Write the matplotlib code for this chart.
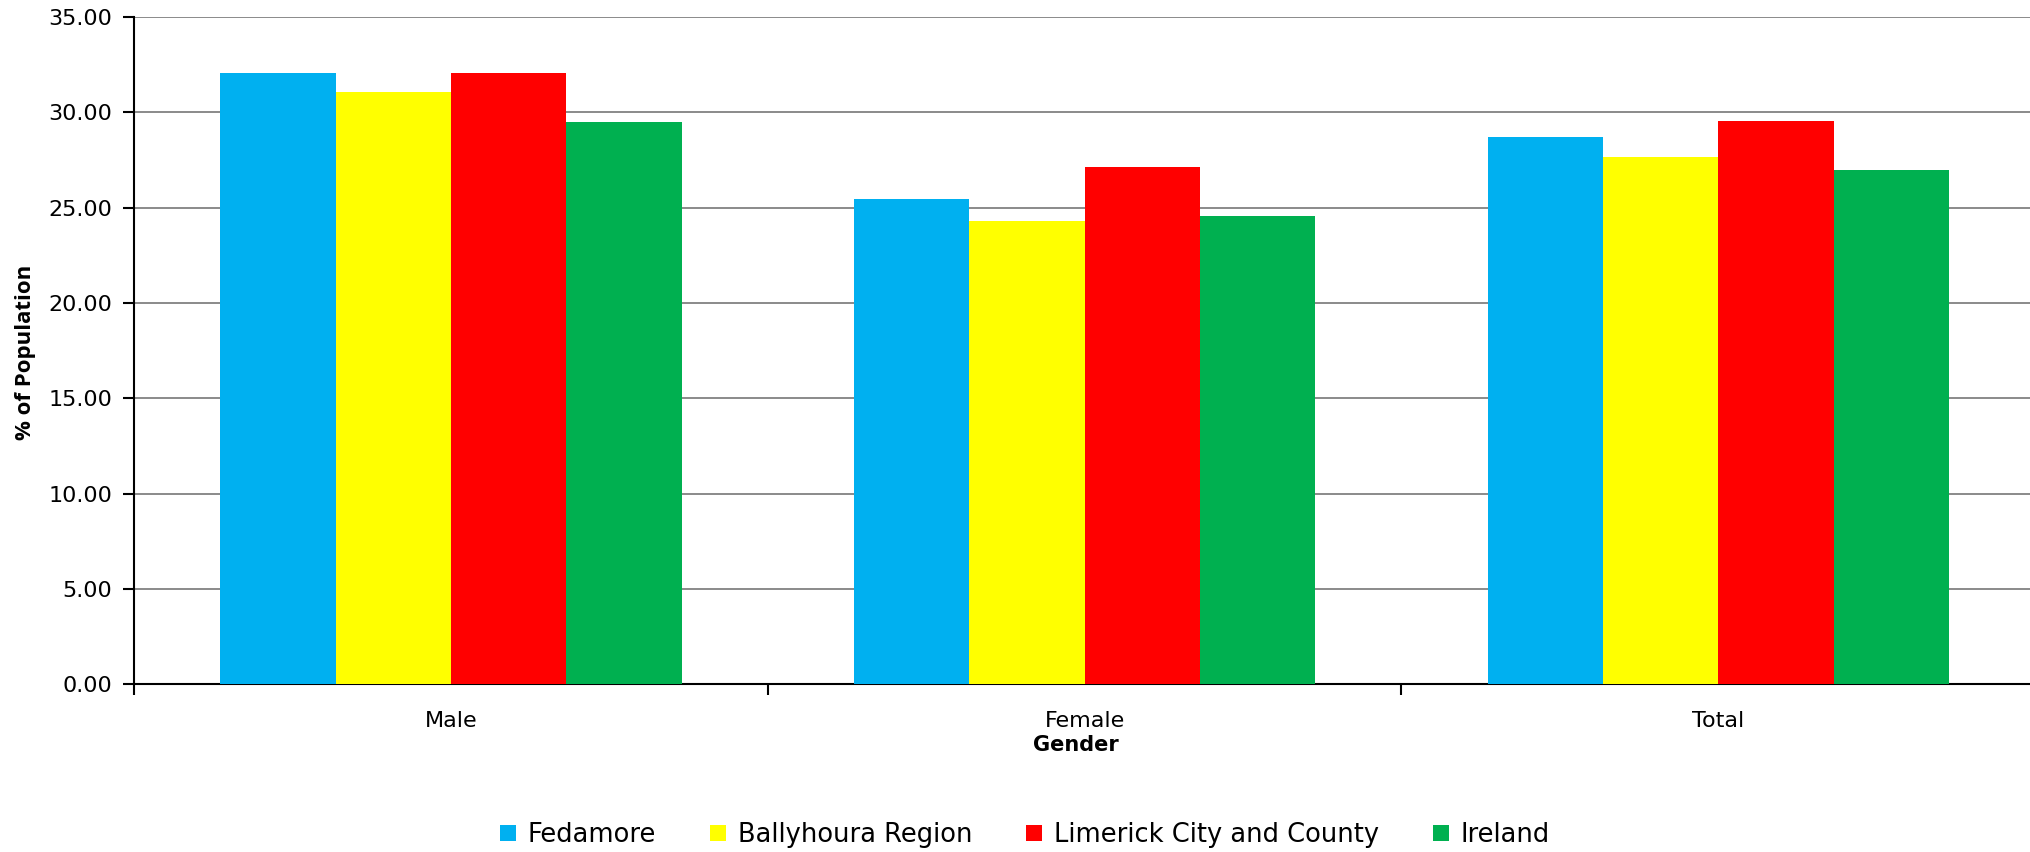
import matplotlib
matplotlib.use("Agg")
import matplotlib.pyplot as plt
import numpy as np

categories = ["Male", "Female", "Total"]
series_names = ["Fedamore", "Ballyhoura Region", "Limerick City and County", "Ireland"]
fedamore = [32.06, 25.47, 28.72]
ballyhoura = [31.08, 24.30, 27.66]
limerick = [32.08, 27.12, 29.56]
ireland = [29.51, 24.55, 26.96]
colors = ["#00B0F0", "#FFFF00", "#FF0000", "#00B050"]
yticks = [0, 5, 10, 15, 20, 25, 30, 35]

W, H = 2031, 852
fig = plt.figure(figsize=(W / 100, H / 100), dpi=100)
left, right, top, bottom = 134.3, 2035.0, 17.0, 684.4
ax = fig.add_axes([left / W, (H - bottom) / H, (right - left) / W, (bottom - top) / H])

x = np.arange(len(categories))
bw = 0.182
all_series = [fedamore, ballyhoura, limerick, ireland]
for i, (vals, name, c) in enumerate(zip(all_series, series_names, colors)):
    ax.bar(x + (i - 1.5) * bw, vals, width=bw, color=c, label=name, zorder=3,
           edgecolor='none')

ax.set_xlim(-0.5, 2.5)
ax.set_ylim(0, 35)
ax.set_yticks(yticks)
ax.set_yticklabels([f"{v:.2f}" for v in yticks], fontsize=16, family="DejaVu Sans")
ax.yaxis.grid(True, color="#8a8a8a", linewidth=1.4, zorder=0)
ax.set_axisbelow(True)

ax.set_xticks([-0.5, 0.5, 1.5, 2.5])
ax.set_xticklabels([])
ax.set_xticks(x, minor=True)
ax.set_xticklabels(categories, minor=True, fontsize=16, family="DejaVu Sans")
ax.tick_params(axis="x", which="minor", length=0, pad=19)
ax.tick_params(axis="x", which="major", length=8, width=1.5, direction="out")
ax.tick_params(axis="y", length=8, width=1.5, direction="out", pad=8)

for s in ["top", "right"]:
    ax.spines[s].set_visible(False)
for s in ["left", "bottom"]:
    ax.spines[s].set_linewidth(1.5)
    ax.spines[s].set_color("black")

fig.text(26 / W, 1 - 352 / H, "% of Population", rotation=90, ha="center", va="center",
         fontsize=16, fontweight="bold", family=["Open Sans", "DejaVu Sans"])
fig.text(1076 / W, 1 - 745 / H, "Gender", ha="center", va="center",
         fontsize=15, fontweight="bold", family="DejaVu Sans")

handles, labels = ax.get_legend_handles_labels()
leg = fig.legend(handles, labels, loc="center", ncol=4, bbox_to_anchor=(1025 / W, 1 - 835 / H),
                 frameon=False, prop={"family": "DejaVu Sans", "size": 18.5},
                 handlelength=0.62, handleheight=0.62, handletextpad=0.45, columnspacing=2.1)

fig.savefig("out.png", dpi=100)
